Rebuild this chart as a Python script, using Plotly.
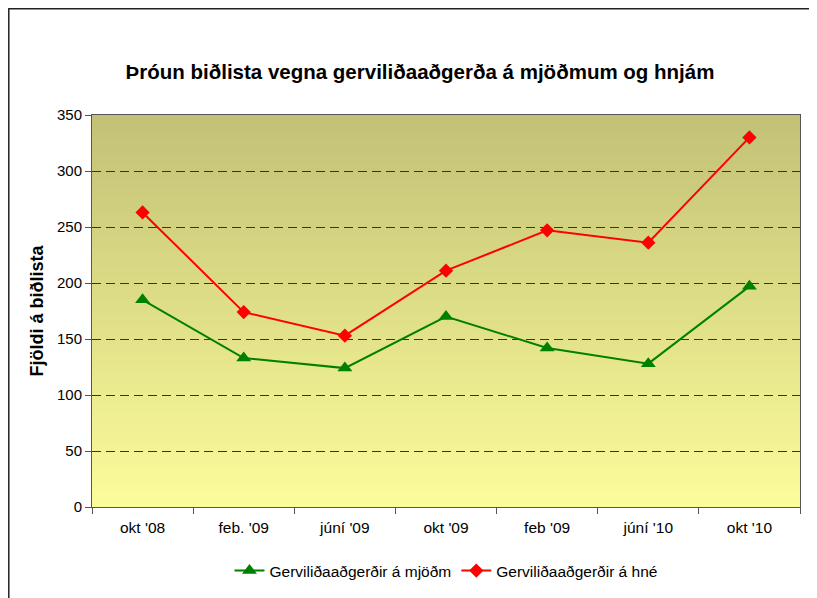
import plotly.graph_objects as go

categories = ["okt '08", "feb. '09", "júní '09", "okt '09", "feb '09", "júní '10", "okt '10"]
mjodm = [185, 133, 124, 170, 142, 128, 197]
hne = [263, 174, 153, 211, 247, 236, 330]
y_ticks = [0, 50, 100, 150, 200, 250, 300, 350]

FONT = "Liberation Sans, Arial, sans-serif"
W, H = 817, 598
L, R, T, B = 84, 25, 107, 99
PW, PH = W - L - R, H - T - B

fig = go.Figure()
fig.add_trace(go.Scatter(
    x=categories, y=mjodm, name="Gerviliðaaðgerðir á mjöðm",
    mode="lines+markers",
    line=dict(color="#008000", width=2),
    marker=dict(symbol="triangle-up", size=13, color="#008000"),
))
fig.add_trace(go.Scatter(
    x=categories, y=hne, name="Gerviliðaaðgerðir á hné",
    mode="lines+markers",
    line=dict(color="#FF0000", width=2),
    marker=dict(symbol="diamond", size=11, color="#FF0000"),
))

# gradient background via stacked bands
top = (194, 193, 118)
bot = (252, 252, 155)
n = 80
shapes = []
for i in range(n):
    t = i / (n - 1)
    c = tuple(round(bot[k] + (top[k] - bot[k]) * t) for k in range(3))
    shapes.append(dict(type="rect", xref="x domain", yref="y domain",
                       x0=0, x1=1, y0=i / n, y1=(i + 1) / n + 0.002,
                       fillcolor="rgb(%d,%d,%d)" % c, line=dict(width=0),
                       layer="below"))
# outer chart frame (figure border)
shapes.append(dict(type="rect", xref="paper", yref="paper",
                   x0=(0.8 - L) / PW, x1=(W - L + 20) / PW,
                   y0=-(B + 20) / PH, y1=1 + (T - 0.8) / PH,
                   line=dict(color="#222222", width=1.5), fillcolor="rgba(0,0,0,0)",
                   layer="above"))

fig.update_layout(
    width=W, height=H,
    margin=dict(l=L, r=R, t=T, b=B),
    paper_bgcolor="white",
    plot_bgcolor="rgba(0,0,0,0)",
    shapes=shapes,
    title=dict(text="<b>Þróun biðlista vegna gerviliðaaðgerða á mjöðmum og hnjám</b>",
               x=412 / W, xanchor="center", xref="container",
               y=1 - 64 / H, yanchor="middle", yref="container",
               font=dict(family=FONT, size=20.5, color="black")),
    font=dict(family=FONT, size=15, color="black"),
    showlegend=True,
    legend=dict(orientation="h", x=0.5, xanchor="center", y=-(563 - T - PH) / PH,
                yanchor="middle",
                font=dict(family=FONT, size=15.5), bgcolor="rgba(0,0,0,0)"),
    xaxis=dict(
        type="category", tickson="boundaries", ticks="outside", ticklen=6,
        tickcolor="#555555", linecolor="#555555", linewidth=1, mirror=True,
        showgrid=False, tickfont=dict(size=15.5), range=[-0.5, 6.5],
        ticklabelstandoff=6,
    ),
    yaxis=dict(
        range=[0, 350], tickvals=y_ticks, ticks="outside", ticklen=6,
        tickcolor="#555555", linecolor="#555555", linewidth=1, mirror=True,
        showgrid=True, gridcolor="#333333", griddash="9px,5px", gridwidth=1,
        zeroline=False, tickfont=dict(size=15),
        title=dict(text="<b>Fjöldi á biðlista</b>", font=dict(size=18), standoff=8),
    ),
)

fig.write_html("out.html")
